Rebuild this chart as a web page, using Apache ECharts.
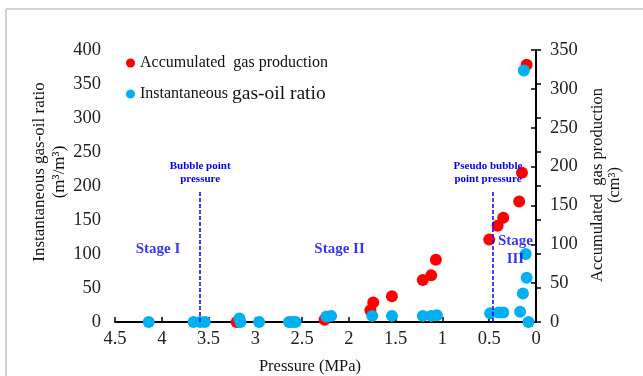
<!DOCTYPE html>
<html lang="en">
<head>
	<meta charset="UTF-8">
	<title>GOR vs pressure</title>
	<style>
	body, div {
		margin: 0;
		padding: 0;
	}
	#echart {
		width: 643px;
		height: 376px;
		background: #fff;
	}
	</style>
</head>
<body>
	<div id="echart"></div>

	<script src="https://cdn.jsdelivr.net/npm/echarts@6/dist/echarts.min.js"></script>

	<script>
	// 数据
	var gorPressure = [4.14, 3.66, 3.59, 3.54, 3.17, 3.16, 2.96, 2.64, 2.61, 2.57, 2.24, 2.19, 1.75, 1.54, 1.21, 1.12, 1.06, 0.49, 0.40, 0.35, 0.17, 0.14, 0.10, 0.11, 0.08, 0.13];
	var gorValue    = [0, 0, 0, 0, 5, 0, 0, 0, 0, 0, 8, 9, 9, 9, 9, 9, 10, 13, 14, 14, 15, 42, 65, 100, 0, 370];

	var gasPressure = [3.20, 2.26, 1.77, 1.74, 1.54, 1.21, 1.12, 1.07, 0.50, 0.41, 0.35, 0.18, 0.15, 0.10];
	var gasValue    = [0, 3, 15, 25, 33, 54, 60, 80, 106, 124, 134, 155, 192, 331];

	var bubblePoint = 3.59;
	var pseudoBubblePoint = 0.46;
	var stages = [
		{ name: 'Stage I', value: [4.04, 107] },
		{ name: 'Stage II', value: [2.10, 107] },
		{ name: 'Stage\nIII', value: [0.22, 105] }
	];

	var serif = '"Liberation Serif", "DejaVu Serif", serif';
	var blueText = '#0000ff';

	function zip(a, b) {
		return a.map(function (v, i) { return [v, b[i]]; });
	}

	var myEchart = echarts.init(document.getElementById('echart'));

	var axisCommon = {
		type: 'value',
		splitLine: { show: false },
		axisLine: { show: true, lineStyle: { color: '#000', width: 2 } },
		axisTick: { show: true, inside: true, length: 5, lineStyle: { color: '#000', width: 1.5 } }
	};
	var tickFont = { color: '#222', fontFamily: serif, fontSize: 18.5 };

	var option = {
		animation: false,
		textStyle: { fontFamily: serif },
		grid: { left: 115, right: 107, top: 50, bottom: 54 },
		legend: {
			orient: 'vertical',
			left: 121,
			top: 50,
			itemGap: 13,
			itemWidth: 9,
			itemHeight: 9,
			data: [
				{ name: 'Accumulated gas production', icon: 'circle' },
				{ name: 'Instantaneous gas-oil ratio', icon: 'circle' }
			],
			formatter: function (name) {
				if (name === 'Accumulated gas production') {
					return '{s|Accumulated  gas production}';
				}
				return '{s|Instantaneous }{b|gas-oil ratio}';
			},
			textStyle: {
				color: '#111',
				rich: {
					s: { fontFamily: serif, fontSize: 16, color: '#111' },
					b: { fontFamily: serif, fontSize: 19.5, color: '#111' }
				}
			}
		},
		xAxis: Object.assign({}, axisCommon, {
			min: 0, max: 4.5, interval: 0.5, inverse: true,
			axisLabel: Object.assign({ margin: 8 }, tickFont)
		}),
		yAxis: [
			Object.assign({}, axisCommon, { min: 0, max: 400, interval: 50, position: 'left',
				axisLabel: Object.assign({ margin: 14 }, tickFont) }),
			Object.assign({}, axisCommon, { min: 0, max: 350, interval: 50, position: 'right',
				axisLabel: Object.assign({ margin: 14 }, tickFont) })
		],
		graphic: [
			{ type: 'line', shape: { x1: 6, y1: 9, x2: 643, y2: 9 }, style: { stroke: '#c4c4c4', lineWidth: 1.5 } },
			{ type: 'line', shape: { x1: 6, y1: 9, x2: 6, y2: 376 }, style: { stroke: '#c4c4c4', lineWidth: 1.5 } },
			{ type: 'text', x: 50, y: 172, rotation: Math.PI / 2,
				style: { text: 'Instantaneous gas-oil ratio\n(m³/m³)', font: '17px ' + serif, fill: '#111',
					align: 'center', verticalAlign: 'middle', lineHeight: 20 } },
			{ type: 'text', x: 606, y: 185, rotation: Math.PI / 2,
				style: { text: 'Accumulated  gas production\n(cm³)', font: '16.5px ' + serif, fill: '#111',
					align: 'center', verticalAlign: 'middle', lineHeight: 17 } },
			{ type: 'text', x: 310, y: 367,
				style: { text: 'Pressure (MPa)', font: '16.5px ' + serif, fill: '#111',
					align: 'center', verticalAlign: 'middle' } }
		],
		series: [
			{
				name: 'Accumulated gas production',
				type: 'scatter',
				yAxisIndex: 1,
				symbolSize: 12,
				itemStyle: { color: '#ff0000', opacity: 1 },
				data: zip(gasPressure, gasValue),
				z: 2
			},
			{
				name: 'Instantaneous gas-oil ratio',
				type: 'scatter',
				yAxisIndex: 0,
				symbolSize: 12,
				itemStyle: { color: '#00b0f0', opacity: 1 },
				data: zip(gorPressure, gorValue),
				z: 3,
				markLine: {
					silent: true,
					symbol: ['none', 'none'],
					lineStyle: { color: blueText, type: [4, 2], width: 1.5 },
					label: {
						show: true,
						position: 'end',
						color: blueText,
						fontFamily: serif,
						fontWeight: 'bold',
						fontSize: 11,
						lineHeight: 13,
						distance: 5
					},
					data: [
						[
							{ coord: [bubblePoint, 0] },
							{ coord: [bubblePoint, 193], label: { formatter: 'Bubble point\npressure' } }
						],
						[
							{ coord: [pseudoBubblePoint, 0] },
							{ coord: [pseudoBubblePoint, 193], label: { formatter: 'Pseudo bubble\npoint pressure', offset: [-5, 0] } }
						]
					]
				}
			},
			{
				name: 'stages',
				type: 'scatter',
				yAxisIndex: 0,
				symbolSize: 0,
				silent: true,
				z: 4,
				label: {
					show: true,
					position: 'inside',
					formatter: '{b}',
					color: blueText,
					fontFamily: serif,
					fontWeight: 'bold',
					fontSize: 15,
					lineHeight: 18
				},
				data: stages
			}
		]
	};

	myEchart.setOption(option);
	</script>
</body>
</html>
